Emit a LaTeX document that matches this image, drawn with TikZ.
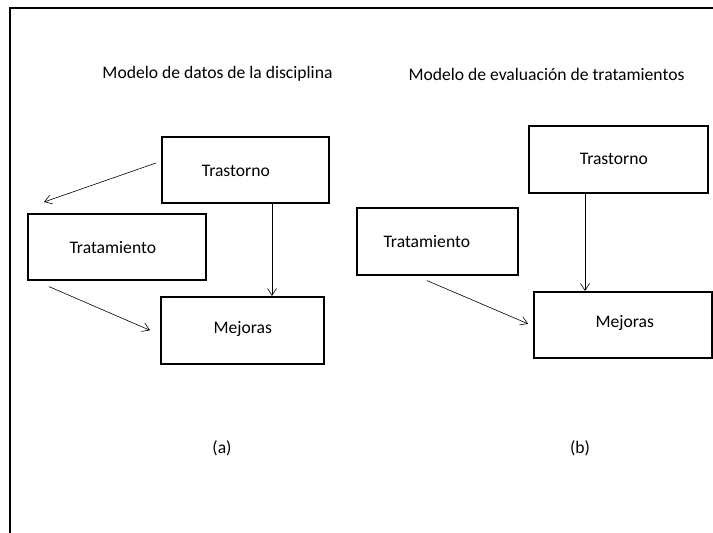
\documentclass[tikz,border=0pt]{standalone}
\usepackage{fontspec}
\setmainfont{Carlito}
\usetikzlibrary{arrows.meta}
\begin{document}
\begin{tikzpicture}[x=1bp,y=-1bp,
  every node/.style={font=\fontsize{17.6bp}{21bp}\selectfont, inner sep=0pt},
  boxnode/.style={draw, line width=1.6bp, rectangle, anchor=north west},
  conn/.style={line width=0.6bp, -{Straight Barb[length=7bp,width=9bp]}}]
\useasboundingbox (0,0) rectangle (713,533);
\fill[white] (0,0) rectangle (713,533);
% frame
\coordinate (f0) at (10,8);
\coordinate (f1) at (713,8);
\coordinate (f2) at (10,533);
\draw[line width=1.8bp] (f1) -- (f0) -- (f2);
% titles
\node (t1) at (217.5,74) {Modelo de datos de la disciplina};
\node (t2) at (546.5,74) {Modelo de evaluación de tratamientos};
% left diagram
\node[boxnode, minimum width=167bp, minimum height=66bp,
  label={[shift={(-9.5,1)}]center:Trastorno}] (ta) at (161,136) {};
\node[boxnode, minimum width=178bp, minimum height=66bp,
  label={[shift={(-4,1)}]center:Tratamiento}] (tr) at (27,213) {};
\node[boxnode, minimum width=163bp, minimum height=67bp,
  label={[shift={(0.5,-1.5)}]center:Mejoras}] (me) at (160,296) {};
\draw[conn] ([shift={(-5,27)}]ta.north west) -- ([shift={(17,-11)}]tr.north west);
\draw[conn] ([shift={(111,0)}]ta.south west) -- ([shift={(111,0)}]ta.south west |- me.north);
\draw[conn] ([shift={(22,6)}]tr.south west) -- ([shift={(-10,0)}]me.west);
% right diagram
\node[boxnode, minimum width=179bp, minimum height=67bp,
  label={[shift={(-4.5,0)}]center:Trastorno}] (tb) at (528,125) {};
\node[boxnode, minimum width=161bp, minimum height=67bp,
  label={[shift={(-10.5,0)}]center:Tratamiento}] (rb) at (356,207) {};
\node[boxnode, minimum width=178bp, minimum height=66bp,
  label={[shift={(2,-2)}]center:Mejoras}] (mb) at (533,291) {};
\draw[conn] ([shift={(57,0)}]tb.south west) -- ([shift={(57,0)}]tb.south west |- mb.north);
\draw[conn] ([shift={(71,5)}]rb.south west) -- ([shift={(-5,-1)}]mb.west);
% captions
\node (ca) at (222,448) {(a)};
\node (cb) at (580,448) {(b)};
\end{tikzpicture}
\end{document}
